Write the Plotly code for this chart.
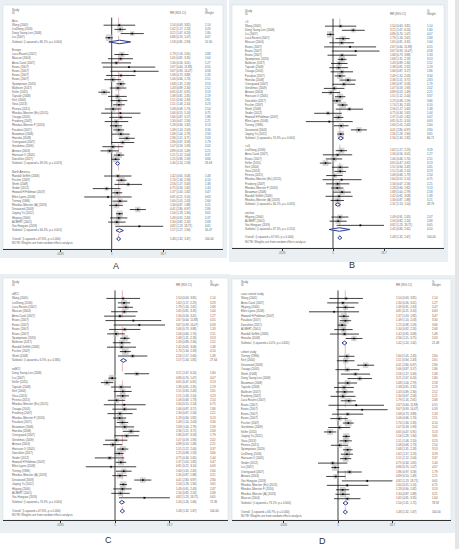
import plotly.graph_objects as go

# ---------------- data ----------------
study_names = [
    "Wang (2005)", "LinZheng (2016)", "Dong Young Lee (2008)", "Liu (2007)",
    "Luca Rosetti (2007)", "Mascari (2004)", "Anna Carol (2007)", "Evans (2007)",
    "Evans (2007)", "Evans (2007)", "Evans (2007)", "Spampinato (2019)",
    "Bakhsen (2017)", "Keller (2011)", "Tapsale (2008)", "Kerl (2004)",
    "Vosa (2013)", "Pereira (2015)", "Rhodius-Meester (Eu) (2015)", "Oraaga (2005)",
    "Frosberg (2007)", "Rhodius-Meester F (2016)", "Fasolato (2017)", "Bouwman (2008)",
    "Hansika (2008)", "Ostergaard (2007)", "Gerolimos (2009)", "Annaro (2003)",
    "Hansson O (2005)", "Dwsshkin (2017)",
    "Randall Griffith (2008)", "Fischer (2007)", "Shinh (2008)", "Snider (2012)",
    "Howard H Feldman (2007)", "Ellen Lyons (2008)", "Tierney (1996)",
    "Rhodius-Meester (A) (2018)", "Devanand (2008)", "Jiaying Yu (2012)",
    "Hkyung (2004)", "ALBERT (2001)", "Vos Hungaro (2019)",
]
study_es = [1.54, 1.62, 3.21, 0.86, 1.79, 1.65, 1.30, 2.67, 3.67, 1.68, 1.06, 1.68,
            1.43, 0.65, 1.38, 1.51, 1.51, 1.08, 1.64, 1.66, 1.30, 1.28, 1.49, 1.68,
            2.36, 1.86, 1.07, 0.89, 1.51, 1.25,
            1.42, 1.74, 2.56, 0.75, 1.37, 0.81, 1.60, 1.30, 4.41, 1.56, 1.49, 1.34, 4.82]
study_lo = [0.63, 1.17, 1.67, 0.70, 1.16, 0.81, 0.56, 0.60, 0.93, 0.73, 0.66, 1.31,
            0.89, 0.47, 0.81, 0.94, 1.08, 0.68, 0.55, 0.87, 0.67, 0.90, 1.10, 1.00,
            1.51, 0.97, 0.59, 0.53, 1.12, 0.98,
            0.65, 1.30, 1.17, 0.34, 1.03, 0.21, 1.05, 0.87, 2.80, 1.28, 0.91, 0.82, 1.23]
study_hi = [3.81, 2.23, 6.20, 1.07, 2.61, 3.35, 3.01, 11.88, 14.47, 3.88, 1.70, 2.18,
            2.30, 0.91, 2.35, 2.43, 2.10, 1.73, 5.14, 3.17, 2.56, 1.82, 2.03, 2.79,
            3.71, 3.58, 1.93, 1.49, 2.04, 1.59,
            3.08, 2.33, 5.63, 1.65, 1.82, 3.10, 2.43, 1.88, 6.97, 1.90, 2.43, 2.20, 18.71]
study_wt = [1.14, 3.29, 1.80, 4.07, 2.68, 1.64, 1.27, 0.55, 0.58, 1.33, 2.51, 3.53,
            2.52, 3.13, 2.19, 2.61, 3.23, 2.54, 0.75, 1.86, 2.21, 3.13, 3.34, 2.58,
            2.63, 1.79, 2.02, 2.21, 3.37, 3.66,
            1.48, 4.10, 1.38, 1.44, 3.47, 0.63, 2.60, 3.21, 2.80, 3.65, 2.47, 2.68, 0.65]

overall_es, overall_lo, overall_hi, overall_wt = 1.48, 1.32, 1.67, 100.00
tick_vals = [0.0535, 1, 18.7]
tick_text = [".0535", "1", "18.7"]

# Panel A: region
A_groups = ["Asia", "Europe", "North America"]
A_members = [[1, 2, 3, 4],
             [5, 6, 7, 8, 9, 10, 11, 12, 13, 14, 15, 16, 17, 18, 19, 20, 21, 22, 23, 24,
              25, 26, 27, 28, 29, 30],
             [31, 32, 33, 34, 35, 36, 37, 38, 39, 40, 41, 42, 43]]
A_sub_text = ["Subtotal  (I-squared = 86.1%, p = 0.000)",
              "Subtotal  (I-squared = 39.0%, p = 0.023)",
              "Subtotal  (I-squared = 64.4%, p = 0.001)"]
A_sub_es = [1.58, 1.40, 1.57]
A_sub_lo = [0.85, 1.24, 1.27]
A_sub_hi = [2.93, 1.58, 1.94]
A_sub_wt = [10.30, 59.63, 30.07]
A_overall_text = "Overall  (I-squared = 67.6%, p = 0.000)"

# Panel B: follow-up
B_groups = ["<3", ">=3", "unclear"]
B_members = [[1, 3, 4, 5, 6, 8, 9, 10, 12, 13, 15, 20, 23, 25, 26, 27, 28, 29, 30, 32,
              33, 34, 35, 36, 37, 39, 40],
             [2, 7, 11, 14, 16, 17, 18, 19, 21, 22, 24, 31, 38],
             [41, 42, 43]]
B_sub_text = ["Subtotal  (I-squared = 74.3%, p = 0.000)",
              "Subtotal  (I-squared = 46.1%, p = 0.035)",
              "Subtotal  (I-squared = 47.3%, p = 0.150)"]
B_sub_es = [1.56, 1.32, 1.45]
B_sub_lo = [1.34, 1.13, 0.80]
B_sub_hi = [1.82, 1.54, 2.62]
B_sub_wt = [66.71, 28.79, 4.50]
B_overall_text = "Overall  (I-squared = 67.6%, p = 0.000)"

# Panel C: MCI type
C_groups = ["aMCI", "naMCI"]
C_members = [[1, 2, 5, 6, 7, 8, 9, 10, 11, 12, 13, 31, 32, 33],
             [3, 4, 14, 15, 16, 17, 18, 19, 20, 21, 22, 23, 24, 25, 26, 27, 28, 29, 30,
              34, 35, 36, 37, 38, 39, 40, 41, 42, 43]]
C_sub_text = ["Subtotal  (I-squared = 6.3%, p = 0.380)",
              "Subtotal  (I-squared = 74.9%, p = 0.000)"]
C_sub_es = [1.57, 1.44]
C_sub_lo = [1.34, 1.26]
C_sub_hi = [1.85, 1.66]
C_sub_wt = [27.64, 72.36]
C_overall_text = "Overall  (I-squared = 67.6%, p = 0.000)"

# Panel D: study design
D_groups = ["case-control study", "cohort study"]
D_members = [[1, 7, 41, 36, 35, 23, 30, 42, 31, 25],
             [37, 16, 39, 20, 33, 3, 24, 15, 13, 21, 5, 8, 9, 10, 11, 32, 27, 14, 40, 17,
              18, 12, 2, 29, 34, 4, 26, 28, 43, 19, 22, 38, 6]]
D_sub_text = ["Subtotal  (I-squared = 0.0%, p = 0.620)",
              "Subtotal  (I-squared = 73.1%, p = 0.000)"]
D_sub_es = [1.42, 1.50]
D_sub_lo = [1.24, 1.31]
D_sub_hi = [1.62, 1.72]
D_sub_wt = [21.08, 78.92]
D_overall_text = "Overall  (I-squared = 66.7%, p = 0.000)"

NOTE = "NOTE: Weights are from random effects analysis"

# ---------------- layout geometry (pixels) ----------------
W, H = 459, 549
GEOM = {
    "A": dict(box=(3, 5, 223, 249), region=(0, 0, 227, 258), one=111.7, ppd=40.5,
              cols=(12, 170, 205), row0=21.0, step=4.19, letter=(116, 266)),
    "B": dict(box=(232, 5, 444, 248), region=(229, 0, 448, 262), one=333.0, ppd=40.1,
              cols=(245, 390, 427), row0=22.0, step=4.15, letter=(352, 265)),
    "C": dict(box=(3, 278, 228, 520), region=(0, 274, 230, 533), one=115.0, ppd=43.1,
              cols=(12, 176, 210), row0=294.0, step=4.43, letter=(108, 540)),
    "D": dict(box=(232, 279, 451, 520), region=(230, 275, 455, 533), one=338.0, ppd=42.8,
              cols=(241, 396, 432), row0=294.0, step=4.45, letter=(322, 541)),
}
PANELS = [
    ("A", A_groups, A_members, A_sub_text, A_sub_es, A_sub_lo, A_sub_hi, A_sub_wt, A_overall_text),
    ("B", B_groups, B_members, B_sub_text, B_sub_es, B_sub_lo, B_sub_hi, B_sub_wt, B_overall_text),
    ("C", C_groups, C_members, C_sub_text, C_sub_es, C_sub_lo, C_sub_hi, C_sub_wt, C_overall_text),
    ("D", D_groups, D_members, D_sub_text, D_sub_es, D_sub_lo, D_sub_hi, D_sub_wt, D_overall_text),
]

FONT = "Liberation Sans"
TXT = "#5e5e5e"
FS = 2.8
NAVY = "#2b3a8f"
REGION_BG = "#e9eff2"


def fx(px):
    return px / W


def fy(py):
    return 1 - py / H


def fmt_ci(e, l, h):
    return f"{e:.2f} ({l:.2f}, {h:.2f})"


fig = go.Figure()
shapes = []
annotations = []
layout_axes = {}

for pi, (key, groups, members, sub_text, sub_es, sub_lo, sub_hi, sub_wt, ov_text) in enumerate(PANELS):
    g = GEOM[key]
    s = "" if pi == 0 else str(pi + 1)
    xa, ya = "x" + s, "y" + s
    l, t, r, b = g["box"]
    one, ppd, row0, step = g["one"], g["ppd"], g["row0"], g["step"]

    def tx(px):
        return 10 ** ((px - one) / ppd)

    rows = []
    for gname, mem, st, se, sl, sh, sw in zip(groups, members, sub_text, sub_es, sub_lo, sub_hi, sub_wt):
        rows.append(("group", gname))
        for m in mem:
            rows.append(("study", m - 1))
        rows.append(("sub", st, se, sl, sh, sw))
        rows.append(("blank",))
    rows.append(("overall", ov_text, overall_es, overall_lo, overall_hi, overall_wt))
    rows.append(("note", NOTE))

    y_top = (t - row0) / step
    y_bot = (b - row0) / step
    overall_row = len(rows) - 2

    rl, rt, rr, rb = g["region"]
    shapes.append(dict(type="rect", xref="paper", yref="paper", layer="below",
                       x0=fx(rl), x1=fx(rr), y0=fy(rb), y1=fy(rt),
                       fillcolor=REGION_BG, line=dict(width=0)))
    shapes.append(dict(type="rect", xref="paper", yref="paper", layer="below",
                       x0=fx(l), x1=fx(r), y0=fy(b), y1=fy(t),
                       fillcolor="white", line=dict(width=0.5, color="#cfd8dc")))

    fig.add_trace(go.Scatter(x=[1, 1], y=[-0.8, y_bot], mode="lines",
                             line=dict(color="#2a2a2a", width=0.9), xaxis=xa, yaxis=ya))
    fig.add_trace(go.Scatter(x=[overall_es, overall_es], y=[-0.8, overall_row], mode="lines",
                             line=dict(color="#d86a6a", width=0.5, dash="dash"),
                             xaxis=xa, yaxis=ya))

    sq_x, sq_y, sq_s = [], [], []
    ci_x, ci_y = [], []
    pt_x, pt_y = [], []
    dm_x, dm_y = [], []
    c1, c1y, c2, c2y, c3, c3y = [], [], [], [], [], []

    c1 += ["Study", "ID"]; c1y += [-2.6, -1.95]
    c2 += ["RR (95% CI)"]; c2y += [-1.95]
    c3 += ["%", "Weight"]; c3y += [-2.6, -1.95]

    for ri, row in enumerate(rows):
        kind = row[0]
        if kind == "group":
            c1.append(row[1]); c1y.append(ri)
        elif kind == "study":
            k = row[1]
            e, lo, hi, w = study_es[k], study_lo[k], study_hi[k], study_wt[k]
            sq_x.append(e); sq_y.append(ri); sq_s.append(3.3 * w ** 0.5)
            ci_x += [lo, hi, None]; ci_y += [ri, ri, None]
            pt_x.append(e); pt_y.append(ri)
            c1.append(study_names[k]); c1y.append(ri)
            c2.append(fmt_ci(e, lo, hi)); c2y.append(ri)
            c3.append(f"{w:.2f}"); c3y.append(ri)
        elif kind in ("sub", "overall"):
            _, lab, e, lo, hi, w = row
            h = 0.42
            dm_x += [lo, e, hi, e, lo, None]
            dm_y += [ri, ri - h, ri, ri + h, ri, None]
            c1.append(lab); c1y.append(ri)
            c2.append(fmt_ci(e, lo, hi)); c2y.append(ri)
            c3.append(f"{w:.2f}"); c3y.append(ri)
        elif kind == "note":
            c1.append(row[1]); c1y.append(ri)

    fig.add_trace(go.Scatter(x=sq_x, y=sq_y, mode="markers",
                             marker=dict(symbol="square", size=sq_s, color="#c3c3c3",
                                         line=dict(width=0)),
                             xaxis=xa, yaxis=ya))
    fig.add_trace(go.Scatter(x=ci_x, y=ci_y, mode="lines",
                             line=dict(color="#111", width=0.8), xaxis=xa, yaxis=ya))
    fig.add_trace(go.Scatter(x=pt_x, y=pt_y, mode="markers",
                             marker=dict(symbol="square", size=1.6, color="#000",
                                         line=dict(width=0)),
                             xaxis=xa, yaxis=ya))
    fig.add_trace(go.Scatter(x=dm_x, y=dm_y, mode="lines", fill="toself",
                             fillcolor="white", line=dict(color=NAVY, width=1.0),
                             xaxis=xa, yaxis=ya))
    for cols_px, txts, ys in ((g["cols"][0], c1, c1y), (g["cols"][1], c2, c2y),
                              (g["cols"][2], c3, c3y)):
        fig.add_trace(go.Scatter(x=[tx(cols_px)] * len(txts), y=ys, text=txts,
                                 mode="text", textposition="middle right",
                                 textfont=dict(family=FONT, size=FS, color=TXT),
                                 xaxis=xa, yaxis=ya))

    layout_axes["xaxis" + s] = dict(
        type="log", domain=[fx(l), fx(r)],
        range=[(l - one) / ppd, (r - one) / ppd], anchor=ya,
        showgrid=False, zeroline=False, showline=True, linecolor="#333", linewidth=0.8,
        ticks="outside", ticklen=2, tickwidth=0.6, tickcolor="#333",
        tickvals=tick_vals, ticktext=tick_text,
        tickfont=dict(family=FONT, size=2.8, color="#666"), fixedrange=True)
    layout_axes["yaxis" + s] = dict(
        domain=[fy(b), fy(t)], range=[y_bot, y_top], anchor=xa, visible=False,
        fixedrange=True)

    lx, ly = g["letter"]
    annotations.append(dict(xref="paper", yref="paper", x=fx(lx), y=fy(ly), text=key,
                            showarrow=False, xanchor="center", yanchor="middle",
                            font=dict(family=FONT, size=9, color="#333")))

shapes.append(dict(type="rect", xref="paper", yref="paper", layer="below",
                   x0=fx(455), x1=1, y0=0, y1=1, fillcolor="#e3e5e6", line=dict(width=0)))

fig.update_layout(
    width=W, height=H, margin=dict(l=0, r=0, t=0, b=0),
    paper_bgcolor="white", plot_bgcolor="rgba(0,0,0,0)",
    showlegend=False, hovermode=False,
    shapes=shapes, annotations=annotations, **layout_axes)

fig.write_html("out.html", config={"displayModeBar": False},
               post_script="document.body.style.margin='0';document.body.style.overflow='hidden';")
